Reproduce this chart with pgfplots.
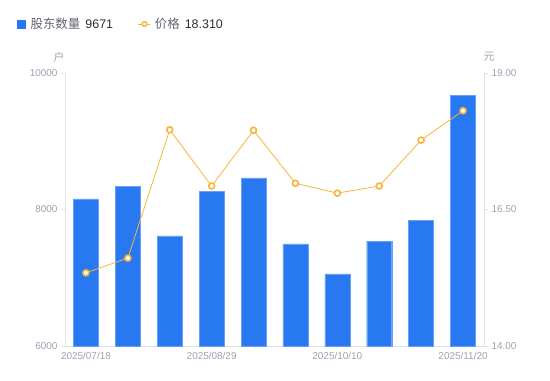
\documentclass[border=0pt]{standalone}
\usepackage{pgfplots}
\pgfplotsset{compat=1.18}
\usepackage{fontspec}
\setmainfont{Liberation Sans}
\newfontfamily\cjk{Noto Sans CJK SC}
\definecolor{barblue}{RGB}{40,120,242}
\definecolor{lineorange}{RGB}{247,181,56}
\definecolor{axisgrey}{RGB}{224,226,232}
\definecolor{labelgrey}{RGB}{158,161,175}
\definecolor{legtext}{RGB}{100,100,110}
\definecolor{legnum}{RGB}{45,45,50}
\pgfplotstableread{
x holders price
0 8154 15.34
1 8344 15.61
2 7612 17.96
3 8271 16.93
4 8462 17.95
5 7495 16.98
6 7055 16.80
7 7538 16.93
8 7846 17.77
9 9671 18.31
}\datatable
\pgfplotsset{
  common/.style={
    at={(65bp,35bp)}, anchor=south west, scale only axis,
    width=419bp, height=273bp,
    xmin=-0.5, xmax=9.5,
    axis line style={axisgrey, line width=0.8bp},
    tick label style={labelgrey, font=\fontsize{10}{12}\selectfont},
    /pgf/number format/assume math mode=true,
    scaled y ticks=false,
    tick align=outside,
    major tick length=4bp,
    every tick/.style={axisgrey, line width=0.8bp},
  }
}
\begin{document}
\begin{tikzpicture}
\path (0,0) rectangle (550bp,381bp);
\begin{axis}[common,
  ymin=6000, ymax=10000,
  axis y line*=left, axis x line*=bottom,
  xtick={0,3,6,9},
  xticklabels={2025/07/18,2025/08/29,2025/10/10,2025/11/20},
  xtick style={draw=none},
  xticklabel style={yshift=1bp},
  ytick={6000,8000,10000},
  yticklabel style={/pgf/number format/set thousands separator={}, /pgf/number format/fixed},
  ybar, bar width=25bp,
  clip=false,
]
\addplot[fill=barblue, draw=barblue!70!white, line width=0.4bp] table[x=x, y=holders] {\datatable};
\node[labelgrey, font=\cjk\fontsize{11}{12}\selectfont] at ([xshift=-6bp, yshift=16bp]rel axis cs:0,1) {户};
\node[labelgrey, font=\cjk\fontsize{11}{12}\selectfont] at ([xshift=5bp, yshift=16bp]rel axis cs:1,1) {元};
\end{axis}
\begin{axis}[common,
  ymin=14, ymax=19,
  axis y line*=right, axis x line=none,
  ytick={14,16.5,19},
  yticklabel style={/pgf/number format/fixed, /pgf/number format/fixed zerofill, /pgf/number format/precision=2},
  legend columns=2,
  legend style={draw=none, fill=none, at={(axis description cs:0,1)}, anchor=west,
    xshift=-48bp, yshift=49bp, inner sep=0pt,
    font=\fontsize{12.5}{14}\selectfont,
    /tikz/every even column/.append style={column sep=23bp}},
  legend cell align=left,
]
\addlegendimage{legend image code/.code={\fill[barblue] (0bp,-4bp) rectangle (8bp,4bp); \path (11bp,0bp);}}
\addlegendentry{{\cjk\color{legtext}股东数量}\hspace{5bp}{\color{legnum}9671}}
\addplot[lineorange, line width=0.8bp, mark=*, mark size=3bp,
  mark options={fill=white, draw=lineorange, line width=1.6bp},
  legend image code/.code={\draw[lineorange, line width=0.8bp] (0bp,0bp) -- (12bp,0bp);
    \draw[lineorange, fill=white, line width=1.4bp] (6bp,0bp) circle (2.4bp); \path (14bp,0bp);}]
  table[x=x, y=price] {\datatable};
\addlegendentry{{\cjk\color{legtext}价格}\hspace{5bp}{\color{legnum}18.310}}
\end{axis}
\end{tikzpicture}
\end{document}
